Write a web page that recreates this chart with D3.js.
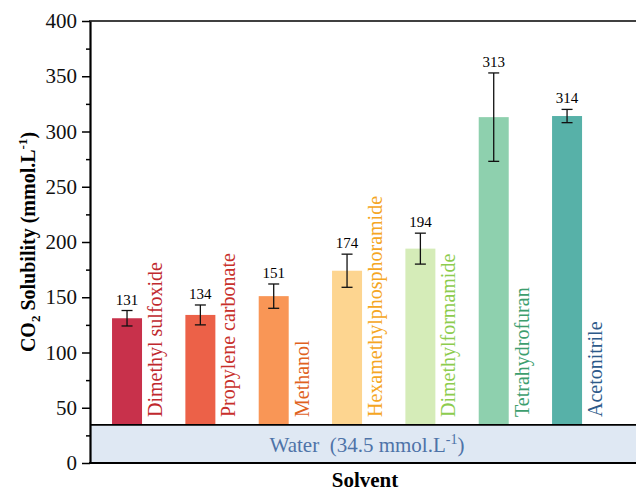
<!DOCTYPE html>
<html>
<head>
<meta charset="utf-8">
<script src="https://cdn.jsdelivr.net/npm/d3@7"></script>
<style>
  body{margin:0;background:#fff;}
  svg, svg text, svg g{font-family:"Liberation Serif","Times New Roman",Times,serif !important;}
</style>
</head>
<body>
<div id="chart"></div>
<script>
const solvents=["Dimethyl sulfoxide","Propylene carbonate","Methanol","Hexamethylphosphoramide","Dimethylformamide","Tetrahydrofuran","Acetonitrile"];
const solubility=[131,134,151,174,194,313,314];
const errors=[7,9,11,15,14,40,6];
const waterValue=34.5;
const barColors=["#c8314b","#ec6148","#f99656","#fdd590","#d5ecb8","#8ed0ae","#57b1a8"];
const labelColors=["#c0282e","#c8302b","#e0621e","#f5a623","#8dcc4e","#3d9e6e","#2d5a8a"];
const yTicks=[0,50,100,150,200,250,300,350,400];

const serif="Liberation Serif";
const opt={width:636,height:493,left:90,right:636,top:21,bottom:463}

const svg=d3.select("#chart")
  .append("svg")
  .attr("width",opt.width)
  .attr("height",opt.height)
  .attr("font-family",serif)

const yScale=d3.scaleLinear()
  .domain([0,400])
  .range([opt.bottom,opt.top]);

const xScale=d3.scaleBand()
  .domain(solvents)
  .range([opt.left,opt.right])
  .paddingInner(0.591)
  .paddingOuter(0.518)
  .align(0.29);

// bars
svg.selectAll("rect.bar")
  .data(solvents)
  .enter()
  .append("rect")
  .attr("class","bar")
  .attr("x",d=>xScale(d))
  .attr("width",xScale.bandwidth())
  .attr("y",(d,i)=>yScale(solubility[i]))
  .attr("height",(d,i)=>yScale(0)-yScale(solubility[i]))
  .attr("fill",(d,i)=>barColors[i]);

// water band
svg.append("rect")
  .attr("x",opt.left)
  .attr("y",yScale(waterValue))
  .attr("width",opt.right-opt.left)
  .attr("height",yScale(0)-yScale(waterValue))
  .attr("fill","#dfe8f3");
svg.append("line")
  .attr("x1",opt.left).attr("x2",opt.right)
  .attr("y1",yScale(waterValue)).attr("y2",yScale(waterValue))
  .attr("stroke","#000").attr("stroke-width",1.6);

const waterText=svg.append("text")
  .attr("x",(opt.left+opt.right)/2+4)
  .attr("y",452)
  .attr("text-anchor","middle")
  .attr("font-family",serif)
  .attr("font-size","21px")
  .attr("fill","#4e73a8");
waterText.append("tspan").text("Water\u00a0 ("+waterValue+" mmol.L");
waterText.append("tspan").attr("dy",-8).attr("font-size","14px").text("-1");
waterText.append("tspan").attr("dy",8).text(")");

// error bars
const cap=5.5;
const eb=svg.selectAll("g.err")
  .data(solvents)
  .enter()
  .append("g")
  .attr("class","err")
  .attr("stroke","#111")
  .attr("stroke-width",1.3);
eb.append("line")
  .attr("x1",d=>xScale(d)+xScale.bandwidth()/2)
  .attr("x2",d=>xScale(d)+xScale.bandwidth()/2)
  .attr("y1",(d,i)=>yScale(solubility[i]+errors[i]))
  .attr("y2",(d,i)=>yScale(solubility[i]-errors[i]));
eb.append("line")
  .attr("x1",d=>xScale(d)+xScale.bandwidth()/2-cap)
  .attr("x2",d=>xScale(d)+xScale.bandwidth()/2+cap)
  .attr("y1",(d,i)=>yScale(solubility[i]+errors[i]))
  .attr("y2",(d,i)=>yScale(solubility[i]+errors[i]));
eb.append("line")
  .attr("x1",d=>xScale(d)+xScale.bandwidth()/2-cap)
  .attr("x2",d=>xScale(d)+xScale.bandwidth()/2+cap)
  .attr("y1",(d,i)=>yScale(solubility[i]-errors[i]))
  .attr("y2",(d,i)=>yScale(solubility[i]-errors[i]));

// value labels
svg.selectAll("text.val")
  .data(solvents)
  .enter()
  .append("text")
  .attr("class","val")
  .attr("x",d=>xScale(d)+xScale.bandwidth()/2)
  .attr("y",(d,i)=>yScale(solubility[i]+errors[i])-6)
  .attr("text-anchor","middle")
  .attr("font-family",serif)
  .attr("font-size","15px")
  .attr("fill","#000")
  .text((d,i)=>solubility[i]);

// solvent names, rotated next to each bar
svg.selectAll("text.name")
  .data(solvents)
  .enter()
  .append("text")
  .attr("class","name")
  .attr("transform",d=>"translate("+(xScale(d)+xScale.bandwidth()+20)+",417) rotate(-90)")
  .attr("font-family",serif)
  .attr("font-size","20px")
  .attr("fill",(d,i)=>labelColors[i])
  .text(d=>d);

// axes
svg.append("g")
  .attr("transform","translate("+opt.left+",0)")
  .call(d3.axisLeft(yScale).tickValues(d3.range(25,400,50)).tickSize(4).tickSizeOuter(0).tickFormat(""))
  .call(g=>g.select(".domain").remove())
  .call(g=>g.selectAll("line").attr("stroke-width",1.5));

const yAxis=svg.append("g")
  .attr("transform","translate("+opt.left+",0)")
  .call(d3.axisLeft(yScale).tickValues(yTicks).tickSize(8).tickSizeOuter(0).tickPadding(5))
  .attr("font-family",serif);
yAxis.select(".domain").attr("stroke-width",2.2);
yAxis.selectAll("line").attr("stroke-width",1.5);
yAxis.selectAll("text")
  .attr("font-family",serif)
  .attr("font-size","21px")
  .attr("fill","#111");

// bottom and top frame lines
svg.append("line")
  .attr("x1",opt.left-1).attr("x2",opt.right)
  .attr("y1",opt.bottom).attr("y2",opt.bottom)
  .attr("stroke","#000").attr("stroke-width",2.2);
svg.append("line")
  .attr("x1",opt.left-1).attr("x2",opt.right)
  .attr("y1",opt.top).attr("y2",opt.top)
  .attr("stroke","#000").attr("stroke-width",1.5);

// axis titles
const yTitle=svg.append("text")
  .attr("transform","translate(35,242) rotate(-90)")
  .attr("text-anchor","middle")
  .attr("font-family",serif)
  .attr("font-size","20px")
  .attr("font-weight","bold");
yTitle.append("tspan").text("CO");
yTitle.append("tspan").attr("dy",5).attr("font-size","13px").text("2");
yTitle.append("tspan").attr("dy",-5).text(" Solubility (mmol.L");
yTitle.append("tspan").attr("dy",-8).attr("font-size","13px").text("-1");
yTitle.append("tspan").attr("dy",8).text(")");

svg.append("text")
  .attr("x",365)
  .attr("y",487)
  .attr("text-anchor","middle")
  .attr("font-family",serif)
  .attr("font-size","21px")
  .attr("font-weight","bold")
  .text("Solvent");
</script>
</body>
</html>
